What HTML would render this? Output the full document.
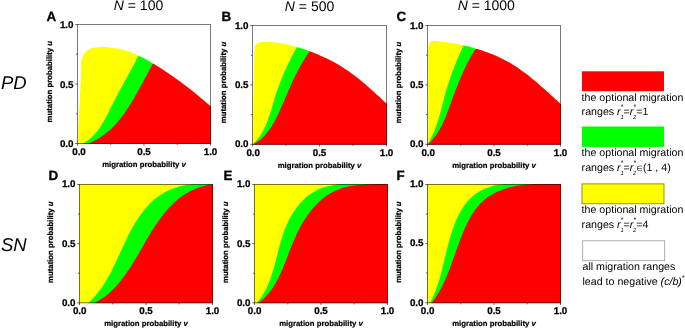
<!DOCTYPE html>
<html><head><meta charset="utf-8"><title>Figure</title>
<style>
html,body{margin:0;padding:0;background:#fff}
svg{display:block}
text{font-family:"Liberation Sans",sans-serif;fill:#000;text-rendering:geometricPrecision}
.tk{font-size:9.8px;font-weight:bold;stroke:#000;stroke-width:.25px}
.ax{font-size:7.75px;font-weight:bold;stroke:#000;stroke-width:.2px}
.pl{font-size:13.4px;font-weight:bold;stroke:#000;stroke-width:.3px}
.tt{font-size:14px}
.rw{font-size:18.5px;font-style:italic}
.lg{font-size:10.65px}
.i{font-style:italic}
.sp{font-size:7px}
.el{font-size:7.5px;font-family:"DejaVu Sans",sans-serif}
.sb{font-size:5.8px;font-style:italic}
</style></head><body>
<svg width="685" height="331" viewBox="0 0 685 331">
<rect width="685" height="331" fill="#fff"/>
<mask id="cA" maskUnits="userSpaceOnUse" x="0" y="0" width="685" height="331"><path d="M77.6 143.5C77.6 143.0 77.7 141.4 77.7 140.3C77.8 139.2 77.8 138.2 77.9 137.1C77.9 136.0 78.0 135.0 78.0 133.9C78.1 132.9 78.1 131.9 78.1 130.8C78.2 129.8 78.2 128.7 78.3 127.7C78.3 126.7 78.4 125.6 78.4 124.6C78.5 123.6 78.5 122.5 78.6 121.5C78.6 120.5 78.7 119.5 78.7 118.4C78.8 117.4 78.9 116.4 78.9 115.4C79.0 114.4 79.0 113.3 79.1 112.3C79.1 111.3 79.2 110.3 79.2 109.3C79.3 108.2 79.3 107.2 79.4 106.2C79.4 105.2 79.5 104.2 79.6 103.1C79.6 102.1 79.7 101.1 79.7 100.1C79.8 99.0 79.8 98.0 79.9 97.0C79.9 95.9 80.0 94.9 80.0 93.9C80.1 92.8 80.2 91.8 80.2 90.8C80.3 89.7 80.3 88.7 80.4 87.6C80.4 86.6 80.5 85.5 80.5 84.5C80.6 83.4 80.7 82.3 80.7 81.3C80.8 80.2 80.8 79.1 80.9 78.0C80.9 77.0 81.0 75.9 81.0 74.8C81.1 73.7 81.1 72.7 81.1 71.6C81.2 70.5 81.2 69.4 81.2 68.4C81.2 67.3 81.1 66.3 81.1 65.2C81.1 64.2 81.1 63.2 81.1 62.1C81.2 61.1 81.3 60.1 81.6 59.1C81.8 58.2 82.2 57.2 82.6 56.3C83.1 55.4 83.6 54.5 84.2 53.7C84.8 52.9 85.5 52.1 86.3 51.4C87.0 50.7 87.9 50.1 88.7 49.6C89.6 49.1 90.5 48.7 91.5 48.3C92.5 48.0 93.5 47.8 94.5 47.6C95.5 47.4 96.6 47.3 97.6 47.2C98.7 47.1 99.7 47.1 100.8 47.1C101.8 47.1 102.9 47.1 104.0 47.1C105.0 47.2 106.1 47.2 107.1 47.3C108.1 47.3 109.2 47.4 110.2 47.5C111.2 47.6 112.3 47.7 113.3 47.9C114.3 48.0 115.3 48.2 116.3 48.3C117.3 48.5 118.3 48.7 119.3 48.9C120.3 49.1 121.3 49.4 122.3 49.6C123.3 49.9 124.3 50.1 125.3 50.4C126.3 50.7 127.3 51.0 128.2 51.4C129.2 51.7 130.2 52.1 131.1 52.4C132.1 52.8 133.1 53.2 134.0 53.6C135.0 54.0 135.9 54.4 136.9 54.8C137.8 55.3 138.8 55.7 139.7 56.2C140.6 56.6 141.6 57.1 142.5 57.6C143.4 58.1 144.4 58.6 145.3 59.1C146.2 59.6 147.1 60.1 148.1 60.6C149.0 61.1 149.9 61.6 150.8 62.2C151.7 62.7 152.6 63.2 153.5 63.8C154.4 64.3 155.3 64.9 156.2 65.4C157.1 66.0 158.0 66.5 158.9 67.1C159.7 67.6 160.6 68.2 161.5 68.8C162.4 69.3 163.3 69.9 164.1 70.5C165.0 71.0 165.9 71.6 166.7 72.2C167.6 72.8 168.5 73.3 169.3 73.9C170.2 74.5 171.1 75.1 171.9 75.7C172.8 76.3 173.6 76.9 174.5 77.5C175.3 78.1 176.1 78.7 177.0 79.3C177.8 79.9 178.7 80.5 179.5 81.1C180.3 81.7 181.2 82.4 182.0 83.0C182.8 83.6 183.7 84.2 184.5 84.8C185.3 85.5 186.1 86.1 187.0 86.7C187.8 87.4 188.6 88.0 189.4 88.6C190.2 89.3 191.0 89.9 191.9 90.6C192.7 91.2 193.5 91.9 194.3 92.5C195.1 93.2 195.9 93.8 196.7 94.5C197.5 95.1 198.3 95.8 199.1 96.4C199.9 97.1 200.7 97.8 201.5 98.4C202.3 99.1 203.1 99.8 203.9 100.5C204.7 101.1 205.4 101.8 206.2 102.5C207.0 103.2 207.8 103.9 208.6 104.5C209.4 105.2 210.2 105.9 210.9 106.6C211.7 107.3 212.5 108.0 213.3 108.7C214.0 109.4 214.8 110.1 215.6 110.8C216.4 111.5 217.5 112.5 217.9 112.9L240.5 144.5L77.6 144.5Z" fill="#fff"/></mask>
<clipPath id="rA"><rect x="77.0" y="24.0" width="134.0" height="120.0"/></clipPath>
<g clip-path="url(#rA)"><g mask="url(#cA)"><rect x="75.5" y="22.5" width="173.0" height="123.0" fill="#ffff00"/><path d="M82.0 144.2C82.4 144.0 83.6 143.3 84.4 142.8C85.2 142.3 85.9 141.8 86.7 141.3C87.4 140.7 88.1 140.2 88.8 139.7C89.5 139.1 90.1 138.5 90.8 138.0C91.4 137.4 92.0 136.8 92.7 136.2C93.3 135.6 93.9 134.9 94.4 134.3C95.0 133.7 95.6 133.0 96.1 132.4C96.7 131.7 97.2 131.1 97.7 130.4C98.2 129.7 98.7 129.0 99.2 128.4C99.7 127.7 100.2 127.0 100.7 126.2C101.1 125.5 101.6 124.8 102.0 124.1C102.5 123.4 102.9 122.6 103.4 121.9C103.8 121.2 104.2 120.4 104.6 119.7C105.1 118.9 105.5 118.2 105.9 117.4C106.3 116.6 106.7 115.9 107.1 115.1C107.5 114.3 107.9 113.6 108.3 112.8C108.7 112.0 109.1 111.2 109.5 110.5C109.8 109.7 110.2 108.9 110.6 108.1C111.0 107.3 111.4 106.5 111.8 105.8C112.2 105.0 112.6 104.2 113.0 103.4C113.4 102.6 113.8 101.9 114.2 101.1C114.6 100.3 115.0 99.5 115.4 98.7C115.8 97.9 116.2 97.2 116.6 96.4C117.1 95.6 117.5 94.8 117.9 94.0C118.3 93.3 118.7 92.5 119.1 91.7C119.5 90.9 120.0 90.1 120.4 89.4C120.8 88.6 121.2 87.8 121.6 87.0C122.1 86.2 122.5 85.5 122.9 84.7C123.3 83.9 123.8 83.1 124.2 82.4C124.6 81.6 125.0 80.8 125.4 80.0C125.9 79.2 126.3 78.5 126.7 77.7C127.1 76.9 127.6 76.1 128.0 75.4C128.4 74.6 128.8 73.8 129.3 73.0C129.7 72.3 130.1 71.5 130.5 70.7C130.9 69.9 131.4 69.1 131.8 68.4C132.2 67.6 132.6 66.8 133.0 66.0C133.4 65.3 133.9 64.5 134.3 63.7C134.7 62.9 135.1 62.2 135.5 61.4C135.9 60.6 136.3 59.8 136.7 59.1C137.1 58.3 137.5 57.5 137.9 56.7C138.3 56.0 138.7 55.2 139.1 54.4C139.5 53.6 139.9 52.9 140.3 52.1C140.7 51.3 141.1 50.6 141.5 49.8C141.9 49.0 142.3 48.2 142.6 47.5C143.0 46.7 143.4 45.9 143.8 45.1C144.1 44.4 144.5 43.6 144.9 42.8C145.2 42.0 145.8 40.9 146.0 40.5L146.0 19.5L240.5 19.5L240.5 148.5L82.0 148.5Z" fill="#00ff00"/><path d="M86.5 144.2C86.9 144.0 88.2 143.6 89.0 143.3C89.9 142.9 90.7 142.6 91.5 142.2C92.3 141.8 93.1 141.5 93.8 141.1C94.6 140.7 95.4 140.3 96.2 139.9C96.9 139.5 97.7 139.0 98.4 138.6C99.1 138.1 99.9 137.7 100.6 137.2C101.3 136.8 102.0 136.3 102.7 135.8C103.4 135.3 104.1 134.8 104.7 134.3C105.4 133.8 106.1 133.2 106.7 132.7C107.4 132.2 108.0 131.6 108.7 131.1C109.3 130.5 109.9 129.9 110.6 129.4C111.2 128.8 111.8 128.2 112.4 127.6C113.0 127.0 113.6 126.4 114.2 125.8C114.8 125.2 115.3 124.5 115.9 123.9C116.5 123.3 117.1 122.6 117.6 122.0C118.2 121.3 118.7 120.7 119.3 120.0C119.8 119.4 120.3 118.7 120.9 118.0C121.4 117.3 121.9 116.6 122.4 116.0C123.0 115.3 123.5 114.6 124.0 113.9C124.5 113.2 125.0 112.5 125.5 111.7C126.0 111.0 126.5 110.3 126.9 109.6C127.4 108.9 127.9 108.1 128.4 107.4C128.9 106.7 129.3 105.9 129.8 105.2C130.3 104.4 130.7 103.7 131.2 103.0C131.6 102.2 132.1 101.5 132.5 100.7C133.0 99.9 133.4 99.2 133.9 98.4C134.3 97.7 134.8 96.9 135.2 96.1C135.6 95.4 136.1 94.6 136.5 93.8C136.9 93.1 137.4 92.3 137.8 91.5C138.2 90.8 138.6 90.0 139.1 89.2C139.5 88.4 139.9 87.7 140.3 86.9C140.8 86.1 141.2 85.3 141.6 84.5C142.0 83.8 142.4 83.0 142.9 82.2C143.3 81.4 143.7 80.7 144.1 79.9C144.5 79.1 144.9 78.3 145.4 77.6C145.8 76.8 146.2 76.0 146.6 75.2C147.0 74.5 147.5 73.7 147.9 72.9C148.3 72.1 148.7 71.4 149.1 70.6C149.6 69.8 150.0 69.1 150.4 68.3C150.8 67.6 151.2 66.8 151.7 66.1C152.1 65.3 152.5 64.5 153.0 63.8C153.4 63.0 153.8 62.3 154.3 61.6C154.7 60.8 155.1 60.1 155.6 59.4C156.0 58.6 156.5 57.9 156.9 57.2C157.4 56.4 157.8 55.7 158.3 55.0C158.7 54.3 159.2 53.6 159.7 52.9C160.1 52.2 160.8 51.1 161.1 50.8L161.1 19.5L240.5 19.5L240.5 148.5L86.5 148.5Z" fill="#ff0000"/></g></g>
<rect x="77.5" y="24.5" width="133.0" height="119.0" fill="none" stroke="#000" stroke-opacity="0.58" stroke-width="0.9"/>
<path d="M77.5 143.5v2.2M77.5 143.5h-2.2M110.8 143.5v1.6M77.5 113.8h-1.6M144.0 143.5v2.2M77.5 84.0h-2.2M177.2 143.5v1.6M77.5 54.2h-1.6M210.5 143.5v2.2M77.5 24.5h-2.2" stroke="#000" stroke-opacity="0.6" stroke-width="1" fill="none"/>
<text class="tk" x="79.0" y="155.3" text-anchor="middle">0.0</text>
<text class="tk" x="73.5" y="147.2" text-anchor="end">0.0</text>
<text class="tk" x="144.0" y="155.3" text-anchor="middle">0.5</text>
<text class="tk" x="73.5" y="87.7" text-anchor="end">0.5</text>
<text class="tk" x="210.5" y="155.3" text-anchor="middle">1.0</text>
<text class="tk" x="73.5" y="28.2" text-anchor="end">1.0</text>
<text class="ax" x="144.0" y="167.0" text-anchor="middle">migration probability <tspan class="i">v</tspan></text>
<text class="ax" transform="translate(51.6 81.7) rotate(-90)" text-anchor="middle">mutation probability <tspan class="i">u</tspan></text>
<text class="pl" x="46.4" y="20.8">A</text>
<mask id="cB" maskUnits="userSpaceOnUse" x="0" y="0" width="685" height="331"><path d="M252.8 144.3C252.8 143.8 252.8 142.1 252.8 141.0C252.8 139.9 252.8 138.8 252.8 137.7C252.8 136.6 252.8 135.5 252.8 134.5C252.8 133.4 252.8 132.3 252.8 131.2C252.8 130.1 252.9 129.0 252.9 127.9C252.9 126.8 252.9 125.7 252.9 124.6C252.9 123.5 252.9 122.5 253.0 121.4C253.0 120.3 253.0 119.2 253.0 118.1C253.0 117.0 253.0 115.9 253.1 114.8C253.1 113.8 253.1 112.7 253.1 111.6C253.1 110.5 253.2 109.4 253.2 108.3C253.2 107.2 253.2 106.1 253.3 105.1C253.3 104.0 253.3 102.9 253.3 101.8C253.3 100.7 253.4 99.6 253.4 98.5C253.4 97.4 253.4 96.4 253.5 95.3C253.5 94.2 253.5 93.1 253.5 92.0C253.5 90.9 253.6 89.8 253.6 88.7C253.6 87.6 253.6 86.6 253.7 85.5C253.7 84.4 253.7 83.3 253.7 82.2C253.7 81.1 253.8 80.0 253.8 78.9C253.8 77.8 253.8 76.7 253.8 75.6C253.8 74.5 253.9 73.4 253.9 72.3C253.9 71.3 253.9 70.2 253.9 69.1C253.9 68.0 253.9 66.9 254.0 65.8C254.0 64.7 254.0 63.6 254.0 62.5C254.1 61.4 254.1 60.3 254.2 59.2C254.2 58.1 254.3 57.0 254.3 55.9C254.4 54.8 254.5 53.7 254.6 52.6C254.7 51.5 254.8 50.4 254.9 49.3C255.0 48.2 255.0 47.0 255.3 46.1C255.7 45.1 256.1 44.2 256.9 43.6C257.6 43.0 258.8 42.8 259.8 42.5C260.8 42.3 261.9 42.2 263.0 42.1C264.1 42.0 265.2 41.9 266.3 41.9C267.4 41.9 268.5 41.9 269.6 41.9C270.7 42.0 271.8 42.1 272.9 42.2C274.0 42.3 275.1 42.4 276.2 42.6C277.3 42.7 278.4 42.9 279.5 43.1C280.6 43.2 281.7 43.4 282.8 43.6C283.8 43.9 284.9 44.1 286.0 44.3C287.1 44.5 288.2 44.8 289.2 45.0C290.3 45.3 291.4 45.6 292.4 45.9C293.5 46.1 294.5 46.4 295.6 46.7C296.7 47.0 297.7 47.3 298.7 47.6C299.8 48.0 300.8 48.3 301.9 48.6C302.9 48.9 303.9 49.3 305.0 49.6C306.0 50.0 307.0 50.3 308.0 50.7C309.1 51.1 310.1 51.4 311.1 51.8C312.1 52.2 313.1 52.6 314.1 53.0C315.1 53.4 316.1 53.8 317.1 54.2C318.1 54.6 319.1 55.0 320.1 55.4C321.0 55.8 322.0 56.3 323.0 56.7C324.0 57.1 325.0 57.6 325.9 58.1C326.9 58.5 327.9 59.0 328.8 59.5C329.8 59.9 330.7 60.4 331.7 60.9C332.6 61.4 333.6 61.9 334.5 62.4C335.5 63.0 336.4 63.5 337.3 64.0C338.3 64.6 339.2 65.1 340.1 65.7C341.1 66.3 342.0 66.8 342.9 67.4C343.8 68.0 344.7 68.6 345.6 69.2C346.5 69.8 347.4 70.5 348.3 71.1C349.2 71.7 350.1 72.4 351.0 73.0C351.9 73.7 352.8 74.3 353.7 75.0C354.6 75.7 355.5 76.3 356.3 77.0C357.2 77.7 358.1 78.4 359.0 79.1C359.8 79.8 360.7 80.5 361.5 81.2C362.4 81.9 363.3 82.6 364.1 83.3C365.0 84.0 365.8 84.8 366.6 85.5C367.5 86.2 368.3 86.9 369.2 87.7C370.0 88.4 370.8 89.2 371.6 89.9C372.5 90.6 373.3 91.4 374.1 92.1C374.9 92.9 375.7 93.6 376.5 94.4C377.4 95.1 378.2 95.8 379.0 96.6C379.8 97.3 380.6 98.1 381.3 98.8C382.1 99.6 382.9 100.3 383.7 101.1C384.5 101.8 385.3 102.6 386.0 103.3C386.8 104.0 387.6 104.8 388.4 105.5C389.1 106.2 389.9 107.0 390.6 107.7C391.4 108.4 392.5 109.5 392.9 109.9L416.5 145.3L252.8 145.3Z" fill="#fff"/></mask>
<clipPath id="rB"><rect x="252.0" y="25.0" width="135.0" height="119.8"/></clipPath>
<g clip-path="url(#rB)"><g mask="url(#cB)"><rect x="250.5" y="23.5" width="174.0" height="122.8" fill="#ffff00"/><path d="M252.5 144.4C252.8 144.1 253.7 143.4 254.3 142.8C254.9 142.3 255.5 141.7 256.0 141.1C256.6 140.5 257.1 139.9 257.6 139.2C258.1 138.6 258.6 137.9 259.1 137.3C259.6 136.6 260.1 135.9 260.5 135.2C261.0 134.5 261.4 133.8 261.8 133.1C262.2 132.4 262.6 131.6 263.0 130.9C263.4 130.2 263.8 129.4 264.2 128.6C264.6 127.9 264.9 127.1 265.3 126.3C265.6 125.5 266.0 124.7 266.3 123.9C266.6 123.1 266.9 122.3 267.3 121.5C267.6 120.7 267.9 119.9 268.2 119.1C268.5 118.2 268.8 117.4 269.0 116.6C269.3 115.7 269.6 114.9 269.9 114.0C270.2 113.2 270.4 112.3 270.7 111.5C271.0 110.6 271.2 109.8 271.5 108.9C271.7 108.1 272.0 107.2 272.3 106.4C272.5 105.5 272.8 104.7 273.0 103.8C273.3 102.9 273.5 102.1 273.8 101.2C274.0 100.4 274.3 99.5 274.5 98.7C274.8 97.8 275.1 97.0 275.3 96.2C275.6 95.3 275.9 94.5 276.1 93.6C276.4 92.8 276.7 92.0 277.0 91.2C277.2 90.3 277.5 89.5 277.8 88.7C278.1 87.9 278.4 87.1 278.7 86.3C279.0 85.5 279.3 84.7 279.6 83.9C279.9 83.1 280.2 82.3 280.5 81.5C280.8 80.7 281.1 79.9 281.4 79.1C281.7 78.3 282.1 77.5 282.4 76.7C282.7 76.0 283.0 75.2 283.4 74.4C283.7 73.6 284.0 72.8 284.4 72.1C284.7 71.3 285.1 70.5 285.4 69.8C285.8 69.0 286.1 68.2 286.5 67.5C286.8 66.7 287.2 65.9 287.6 65.2C287.9 64.4 288.3 63.6 288.7 62.9C289.0 62.1 289.4 61.4 289.8 60.6C290.1 59.8 290.5 59.1 290.9 58.3C291.3 57.6 291.7 56.8 292.1 56.1C292.5 55.3 292.9 54.5 293.3 53.8C293.7 53.0 294.1 52.3 294.5 51.5C294.9 50.7 295.3 50.0 295.7 49.2C296.1 48.5 296.5 47.7 296.9 46.9C297.4 46.2 297.8 45.4 298.2 44.6C298.6 43.9 299.1 43.1 299.5 42.3C299.9 41.6 300.4 40.8 300.8 40.0C301.2 39.3 301.7 38.5 302.1 37.7C302.6 36.9 303.3 35.8 303.5 35.4L303.5 20.5L416.5 20.5L416.5 149.3L252.5 149.3Z" fill="#00ff00"/><path d="M252.5 144.4C252.9 144.2 254.1 143.6 254.8 143.2C255.6 142.8 256.3 142.4 257.0 142.0C257.7 141.5 258.4 141.0 259.1 140.5C259.8 140.0 260.4 139.5 261.1 139.0C261.7 138.5 262.3 137.9 263.0 137.3C263.6 136.7 264.2 136.1 264.7 135.5C265.3 134.9 265.9 134.3 266.4 133.6C267.0 133.0 267.5 132.3 268.0 131.6C268.5 131.0 269.1 130.3 269.6 129.5C270.1 128.8 270.5 128.1 271.0 127.4C271.5 126.7 272.0 125.9 272.4 125.1C272.9 124.4 273.3 123.6 273.7 122.9C274.2 122.1 274.6 121.3 275.0 120.5C275.4 119.7 275.8 118.9 276.2 118.1C276.7 117.3 277.0 116.5 277.4 115.7C277.8 114.9 278.2 114.0 278.6 113.2C279.0 112.4 279.4 111.6 279.7 110.8C280.1 109.9 280.5 109.1 280.8 108.3C281.2 107.5 281.6 106.6 281.9 105.8C282.3 105.0 282.6 104.2 283.0 103.3C283.3 102.5 283.7 101.7 284.1 100.9C284.4 100.1 284.8 99.2 285.1 98.4C285.5 97.6 285.8 96.8 286.2 96.0C286.5 95.2 286.9 94.3 287.2 93.5C287.6 92.7 287.9 91.9 288.3 91.1C288.6 90.3 289.0 89.5 289.3 88.7C289.7 87.9 290.1 87.1 290.4 86.3C290.8 85.5 291.1 84.7 291.5 83.9C291.9 83.1 292.2 82.3 292.6 81.5C293.0 80.7 293.3 79.9 293.7 79.1C294.1 78.4 294.4 77.6 294.8 76.8C295.2 76.0 295.6 75.2 296.0 74.5C296.4 73.7 296.8 72.9 297.2 72.1C297.5 71.4 297.9 70.6 298.4 69.8C298.8 69.1 299.2 68.3 299.6 67.5C300.0 66.8 300.4 66.0 300.9 65.3C301.3 64.5 301.7 63.7 302.2 63.0C302.6 62.2 303.1 61.5 303.5 60.8C304.0 60.0 304.4 59.3 304.9 58.5C305.4 57.8 305.8 57.1 306.3 56.3C306.8 55.6 307.3 54.9 307.8 54.2C308.3 53.4 308.8 52.7 309.3 52.0C309.9 51.3 310.4 50.6 310.9 49.9C311.5 49.1 312.0 48.4 312.6 47.7C313.1 47.0 313.7 46.3 314.3 45.6C314.9 45.0 315.4 44.3 316.0 43.6C316.6 42.9 317.6 41.9 317.9 41.5L317.9 20.5L416.5 20.5L416.5 149.3L252.5 149.3Z" fill="#ff0000"/></g></g>
<rect x="252.5" y="25.5" width="134.0" height="118.8" fill="none" stroke="#000" stroke-opacity="0.58" stroke-width="0.9"/>
<path d="M252.5 144.3v2.2M252.5 144.3h-2.2M286.0 144.3v1.6M252.5 114.6h-1.6M319.5 144.3v2.2M252.5 84.9h-2.2M353.0 144.3v1.6M252.5 55.2h-1.6M386.5 144.3v2.2M252.5 25.5h-2.2" stroke="#000" stroke-opacity="0.6" stroke-width="1" fill="none"/>
<text class="tk" x="253.2" y="156.1" text-anchor="middle">0.0</text>
<text class="tk" x="248.5" y="147.3" text-anchor="end">0.0</text>
<text class="tk" x="319.5" y="156.1" text-anchor="middle">0.5</text>
<text class="tk" x="248.5" y="87.9" text-anchor="end">0.5</text>
<text class="tk" x="386.5" y="156.1" text-anchor="middle">1.0</text>
<text class="tk" x="248.5" y="28.5" text-anchor="end">1.0</text>
<text class="ax" x="319.5" y="167.8" text-anchor="middle">migration probability <tspan class="i">v</tspan></text>
<text class="ax" transform="translate(226.2 82.5) rotate(-90)" text-anchor="middle">mutation probability <tspan class="i">u</tspan></text>
<text class="pl" x="221.4" y="20.8">B</text>
<mask id="cC" maskUnits="userSpaceOnUse" x="0" y="0" width="685" height="331"><path d="M427.7 144.3C427.7 143.7 427.7 142.1 427.6 141.0C427.6 139.8 427.6 138.7 427.6 137.6C427.6 136.5 427.6 135.4 427.6 134.3C427.6 133.2 427.6 132.1 427.6 131.0C427.6 129.9 427.6 128.8 427.6 127.7C427.6 126.6 427.6 125.5 427.6 124.4C427.6 123.3 427.7 122.1 427.7 121.0C427.7 119.9 427.7 118.9 427.7 117.8C427.7 116.7 427.8 115.6 427.8 114.5C427.8 113.4 427.8 112.3 427.8 111.2C427.9 110.1 427.9 109.0 427.9 107.9C427.9 106.8 427.9 105.7 427.9 104.6C428.0 103.5 428.0 102.4 428.0 101.3C428.0 100.2 428.0 99.1 428.0 98.0C428.1 96.9 428.1 95.8 428.1 94.7C428.1 93.6 428.1 92.5 428.1 91.4C428.1 90.3 428.1 89.2 428.1 88.1C428.1 87.0 428.1 85.9 428.1 84.7C428.1 83.6 428.1 82.5 428.1 81.4C428.1 80.3 428.1 79.2 428.1 78.1C428.0 77.0 428.0 75.9 428.0 74.7C428.0 73.6 427.9 72.5 427.9 71.4C427.9 70.3 427.8 69.1 427.8 68.0C427.8 66.9 427.7 65.8 427.7 64.7C427.7 63.5 427.7 62.4 427.6 61.3C427.6 60.2 427.6 59.1 427.7 58.0C427.7 56.8 427.7 55.7 427.8 54.6C427.8 53.5 427.9 52.4 428.0 51.4C428.1 50.3 428.2 49.2 428.3 48.1C428.5 47.0 428.6 45.9 428.9 44.9C429.2 44.0 429.5 42.9 430.0 42.3C430.6 41.6 431.5 41.3 432.5 41.1C433.4 40.9 434.6 41.0 435.8 41.1C436.9 41.1 438.2 41.3 439.3 41.4C440.5 41.5 441.7 41.7 442.8 41.8C444.0 41.9 445.1 42.1 446.3 42.2C447.4 42.4 448.5 42.6 449.6 42.7C450.7 42.9 451.8 43.1 452.9 43.3C454.0 43.4 455.1 43.6 456.2 43.8C457.2 44.0 458.3 44.2 459.4 44.5C460.4 44.7 461.5 44.9 462.6 45.1C463.6 45.4 464.7 45.6 465.7 45.9C466.8 46.1 467.8 46.4 468.9 46.6C469.9 46.9 471.0 47.2 472.0 47.5C473.0 47.8 474.1 48.1 475.1 48.4C476.2 48.7 477.2 49.0 478.3 49.3C479.3 49.6 480.4 50.0 481.4 50.3C482.5 50.7 483.5 51.0 484.6 51.4C485.6 51.8 486.7 52.1 487.7 52.5C488.8 52.9 489.8 53.3 490.9 53.7C491.9 54.1 492.9 54.5 494.0 55.0C495.0 55.4 496.0 55.8 497.0 56.3C498.1 56.8 499.1 57.2 500.1 57.7C501.1 58.2 502.1 58.7 503.1 59.2C504.1 59.7 505.1 60.2 506.1 60.7C507.0 61.2 508.0 61.8 509.0 62.3C509.9 62.9 510.9 63.4 511.8 64.0C512.8 64.6 513.7 65.2 514.6 65.8C515.6 66.3 516.5 66.9 517.4 67.6C518.3 68.2 519.2 68.8 520.1 69.4C521.0 70.1 521.9 70.7 522.8 71.4C523.7 72.0 524.6 72.7 525.4 73.3C526.3 74.0 527.2 74.7 528.1 75.3C528.9 76.0 529.8 76.7 530.6 77.4C531.5 78.1 532.4 78.8 533.2 79.5C534.1 80.2 534.9 80.9 535.7 81.6C536.6 82.3 537.4 83.0 538.2 83.8C539.1 84.5 539.9 85.2 540.7 85.9C541.6 86.7 542.4 87.4 543.2 88.1C544.1 88.9 544.9 89.6 545.7 90.3C546.5 91.1 547.3 91.8 548.2 92.6C549.0 93.3 549.8 94.1 550.6 94.8C551.4 95.5 552.2 96.3 553.1 97.0C553.9 97.8 554.7 98.5 555.5 99.3C556.3 100.0 557.2 100.7 558.0 101.5C558.8 102.2 559.6 103.0 560.4 103.7C561.3 104.4 562.1 105.2 562.9 105.9C563.7 106.6 564.6 107.4 565.4 108.1C566.2 108.8 567.5 109.9 567.9 110.3L590.5 145.3L427.7 145.3Z" fill="#fff"/></mask>
<clipPath id="rC"><rect x="427.0" y="25.0" width="134.0" height="119.8"/></clipPath>
<g clip-path="url(#rC)"><g mask="url(#cC)"><rect x="425.5" y="23.5" width="173.0" height="122.8" fill="#ffff00"/><path d="M427.5 144.4C427.7 144.0 428.4 142.9 428.8 142.2C429.3 141.4 429.7 140.7 430.1 139.9C430.5 139.2 430.9 138.4 431.3 137.6C431.7 136.9 432.0 136.1 432.4 135.3C432.7 134.6 433.1 133.8 433.4 133.0C433.7 132.3 434.1 131.5 434.4 130.7C434.7 129.9 435.0 129.2 435.3 128.4C435.6 127.6 435.9 126.8 436.2 126.0C436.4 125.2 436.7 124.4 437.0 123.7C437.3 122.9 437.5 122.1 437.8 121.3C438.0 120.5 438.3 119.7 438.5 118.9C438.7 118.1 439.0 117.3 439.2 116.5C439.4 115.7 439.7 114.9 439.9 114.1C440.1 113.3 440.3 112.5 440.6 111.7C440.8 110.9 441.0 110.1 441.2 109.2C441.4 108.4 441.6 107.6 441.9 106.8C442.1 106.0 442.3 105.2 442.5 104.4C442.7 103.6 442.9 102.7 443.1 101.9C443.3 101.1 443.6 100.3 443.8 99.5C444.0 98.7 444.2 97.9 444.4 97.0C444.6 96.2 444.9 95.4 445.1 94.6C445.3 93.8 445.5 93.0 445.8 92.1C446.0 91.3 446.3 90.5 446.5 89.7C446.7 88.9 447.0 88.1 447.2 87.2C447.5 86.4 447.7 85.6 448.0 84.8C448.2 84.0 448.5 83.2 448.8 82.4C449.0 81.5 449.3 80.7 449.6 79.9C449.8 79.1 450.1 78.3 450.4 77.5C450.7 76.7 451.0 75.9 451.2 75.1C451.5 74.2 451.8 73.4 452.1 72.6C452.4 71.8 452.7 71.0 453.0 70.2C453.3 69.4 453.6 68.6 453.9 67.8C454.2 67.0 454.5 66.2 454.8 65.4C455.2 64.6 455.5 63.8 455.8 63.0C456.1 62.2 456.4 61.4 456.8 60.6C457.1 59.8 457.4 59.1 457.8 58.3C458.1 57.5 458.4 56.7 458.8 55.9C459.1 55.1 459.5 54.4 459.8 53.6C460.2 52.8 460.5 52.0 460.9 51.3C461.3 50.5 461.6 49.7 462.0 48.9C462.3 48.2 462.7 47.4 463.1 46.7C463.5 45.9 463.8 45.1 464.2 44.4C464.6 43.6 465.0 42.9 465.4 42.1C465.8 41.4 466.2 40.6 466.5 39.9C466.9 39.1 467.3 38.4 467.7 37.7C468.1 36.9 468.6 36.2 469.0 35.5C469.4 34.7 470.0 33.7 470.2 33.3L470.2 20.5L590.5 20.5L590.5 149.3L427.5 149.3Z" fill="#00ff00"/><path d="M427.5 144.4C427.8 144.1 428.8 143.3 429.5 142.7C430.1 142.1 430.7 141.5 431.3 140.9C431.9 140.3 432.5 139.6 433.0 139.0C433.6 138.3 434.1 137.7 434.6 137.0C435.2 136.3 435.7 135.7 436.2 135.0C436.7 134.3 437.1 133.6 437.6 132.9C438.1 132.1 438.5 131.4 438.9 130.7C439.4 129.9 439.8 129.2 440.2 128.5C440.6 127.7 441.0 126.9 441.4 126.2C441.8 125.4 442.2 124.6 442.6 123.9C442.9 123.1 443.3 122.3 443.7 121.5C444.0 120.7 444.4 119.9 444.7 119.1C445.1 118.3 445.4 117.5 445.7 116.7C446.0 115.8 446.4 115.0 446.7 114.2C447.0 113.4 447.3 112.6 447.6 111.7C447.9 110.9 448.3 110.1 448.6 109.3C448.9 108.4 449.2 107.6 449.5 106.8C449.8 105.9 450.1 105.1 450.4 104.3C450.7 103.4 451.0 102.6 451.3 101.8C451.6 100.9 451.9 100.1 452.2 99.3C452.5 98.4 452.8 97.6 453.1 96.8C453.4 96.0 453.7 95.1 454.1 94.3C454.4 93.5 454.7 92.6 455.0 91.8C455.3 91.0 455.6 90.2 455.9 89.3C456.3 88.5 456.6 87.7 456.9 86.9C457.2 86.1 457.6 85.2 457.9 84.4C458.2 83.6 458.5 82.8 458.9 82.0C459.2 81.2 459.5 80.4 459.9 79.5C460.2 78.7 460.6 77.9 460.9 77.1C461.3 76.3 461.6 75.5 462.0 74.7C462.3 73.9 462.7 73.1 463.0 72.3C463.4 71.5 463.8 70.7 464.1 69.9C464.5 69.1 464.9 68.3 465.3 67.5C465.6 66.8 466.0 66.0 466.4 65.2C466.8 64.4 467.2 63.6 467.6 62.8C468.0 62.1 468.4 61.3 468.8 60.5C469.2 59.8 469.6 59.0 470.1 58.2C470.5 57.5 470.9 56.7 471.3 55.9C471.8 55.2 472.2 54.4 472.7 53.7C473.1 52.9 473.6 52.2 474.0 51.4C474.5 50.7 475.0 49.9 475.4 49.2C475.9 48.5 476.4 47.7 476.9 47.0C477.4 46.3 477.9 45.6 478.4 44.8C478.9 44.1 479.4 43.4 479.9 42.7C480.4 42.0 480.9 41.3 481.5 40.6C482.0 39.9 482.6 39.2 483.1 38.5C483.7 37.8 484.5 36.7 484.8 36.4L484.8 20.5L590.5 20.5L590.5 149.3L427.5 149.3Z" fill="#ff0000"/></g></g>
<rect x="427.5" y="25.5" width="133.0" height="118.8" fill="none" stroke="#000" stroke-opacity="0.58" stroke-width="0.9"/>
<path d="M427.5 144.3v2.2M427.5 144.3h-2.2M460.8 144.3v1.6M427.5 114.6h-1.6M494.0 144.3v2.2M427.5 84.9h-2.2M527.2 144.3v1.6M427.5 55.2h-1.6M560.5 144.3v2.2M427.5 25.5h-2.2" stroke="#000" stroke-opacity="0.6" stroke-width="1" fill="none"/>
<text class="tk" x="428.2" y="156.1" text-anchor="middle">0.0</text>
<text class="tk" x="423.5" y="147.3" text-anchor="end">0.0</text>
<text class="tk" x="494.0" y="156.1" text-anchor="middle">0.5</text>
<text class="tk" x="423.5" y="87.9" text-anchor="end">0.5</text>
<text class="tk" x="560.5" y="156.1" text-anchor="middle">1.0</text>
<text class="tk" x="423.5" y="28.5" text-anchor="end">1.0</text>
<text class="ax" x="494.0" y="167.8" text-anchor="middle">migration probability <tspan class="i">v</tspan></text>
<text class="ax" transform="translate(401.2 82.5) rotate(-90)" text-anchor="middle">mutation probability <tspan class="i">u</tspan></text>
<text class="pl" x="396.4" y="20.9">C</text>
<mask id="cD" maskUnits="userSpaceOnUse" x="0" y="0" width="685" height="331"><path d="M78.5 183.5H213.5V303.8H78.5Z" fill="#fff"/></mask>
<clipPath id="rD"><rect x="79.0" y="184.0" width="134.0" height="119.3"/></clipPath>
<g clip-path="url(#rD)"><g mask="url(#cD)"><rect x="77.5" y="182.5" width="173.0" height="122.3" fill="#ffff00"/><path d="M87.8 303.4C88.3 302.9 89.8 301.6 90.7 300.7C91.7 299.7 92.6 298.8 93.5 297.8C94.4 296.8 95.2 295.9 96.1 294.9C96.9 293.9 97.7 292.8 98.5 291.8C99.3 290.8 100.1 289.7 100.9 288.7C101.6 287.6 102.3 286.5 103.1 285.4C103.8 284.4 104.5 283.3 105.2 282.2C105.9 281.0 106.5 279.9 107.2 278.8C107.8 277.7 108.5 276.5 109.1 275.4C109.7 274.2 110.4 273.1 111.0 271.9C111.6 270.7 112.2 269.6 112.8 268.4C113.3 267.2 113.9 266.0 114.5 264.8C115.1 263.6 115.6 262.4 116.2 261.2C116.8 260.0 117.3 258.8 117.9 257.6C118.4 256.4 119.0 255.2 119.6 254.0C120.1 252.8 120.7 251.6 121.2 250.4C121.8 249.2 122.3 248.0 122.9 246.8C123.4 245.6 124.0 244.4 124.6 243.2C125.1 242.0 125.7 240.8 126.3 239.6C126.8 238.4 127.4 237.2 128.0 236.0C128.6 234.8 129.2 233.6 129.8 232.5C130.4 231.3 131.1 230.1 131.7 229.0C132.3 227.8 133.0 226.6 133.6 225.5C134.3 224.4 135.0 223.2 135.7 222.1C136.4 221.0 137.1 219.9 137.8 218.8C138.5 217.7 139.2 216.6 140.0 215.6C140.7 214.5 141.5 213.5 142.3 212.4C143.0 211.4 143.8 210.4 144.7 209.4C145.5 208.4 146.3 207.4 147.2 206.5C148.0 205.6 148.9 204.6 149.8 203.7C150.7 202.8 151.6 201.9 152.5 201.1C153.5 200.2 154.4 199.4 155.4 198.6C156.4 197.8 157.4 197.1 158.5 196.3C159.5 195.6 160.5 194.9 161.6 194.2C162.7 193.5 163.8 192.9 164.9 192.3C166.1 191.6 167.2 191.1 168.4 190.5C169.6 190.0 170.8 189.5 172.0 189.0C173.3 188.5 174.5 188.1 175.8 187.7C177.0 187.3 178.3 186.9 179.6 186.5C180.9 186.2 182.2 185.9 183.6 185.6C184.9 185.3 186.2 185.1 187.5 184.8C188.9 184.6 190.2 184.4 191.6 184.3C192.9 184.1 194.3 184.0 195.6 183.9C197.0 183.8 198.3 183.7 199.6 183.7C201.0 183.6 202.3 183.6 203.7 183.6C205.0 183.7 206.3 183.7 207.6 183.8C208.9 183.9 210.8 184.0 211.5 184.1L211.5 179.5L242.5 179.5L242.5 307.8L87.8 307.8Z" fill="#00ff00"/><path d="M94.0 303.4C94.6 303.1 96.2 302.2 97.3 301.6C98.4 301.0 99.5 300.3 100.5 299.6C101.5 299.0 102.6 298.3 103.6 297.5C104.6 296.8 105.5 296.1 106.5 295.3C107.4 294.5 108.4 293.8 109.3 292.9C110.2 292.1 111.1 291.3 112.0 290.5C112.8 289.6 113.7 288.8 114.5 287.9C115.4 287.0 116.2 286.1 117.0 285.2C117.8 284.3 118.6 283.4 119.4 282.4C120.2 281.5 121.0 280.5 121.7 279.6C122.5 278.6 123.2 277.6 123.9 276.6C124.7 275.6 125.4 274.6 126.1 273.6C126.8 272.6 127.5 271.6 128.2 270.5C128.9 269.5 129.6 268.5 130.3 267.4C130.9 266.4 131.6 265.3 132.3 264.2C132.9 263.2 133.6 262.1 134.2 261.0C134.9 259.9 135.5 258.9 136.2 257.8C136.8 256.7 137.5 255.6 138.1 254.5C138.7 253.4 139.4 252.3 140.0 251.2C140.6 250.1 141.3 249.0 141.9 247.9C142.5 246.8 143.2 245.7 143.8 244.6C144.4 243.5 145.1 242.4 145.7 241.3C146.3 240.2 147.0 239.1 147.6 238.1C148.3 237.0 148.9 235.9 149.6 234.8C150.2 233.7 150.9 232.6 151.5 231.6C152.2 230.5 152.9 229.4 153.6 228.4C154.2 227.3 154.9 226.3 155.6 225.3C156.3 224.2 157.0 223.2 157.7 222.2C158.4 221.2 159.1 220.1 159.9 219.1C160.6 218.1 161.3 217.2 162.1 216.2C162.8 215.2 163.6 214.3 164.3 213.3C165.1 212.4 165.9 211.4 166.7 210.5C167.5 209.6 168.3 208.7 169.1 207.8C169.9 206.9 170.7 206.1 171.6 205.2C172.4 204.4 173.3 203.5 174.1 202.7C175.0 201.9 175.9 201.1 176.8 200.4C177.7 199.6 178.6 198.8 179.6 198.1C180.5 197.4 181.5 196.7 182.4 196.0C183.4 195.3 184.4 194.6 185.4 194.0C186.4 193.4 187.4 192.8 188.5 192.2C189.5 191.6 190.6 191.0 191.7 190.5C192.8 190.0 193.9 189.4 195.0 189.0C196.1 188.5 197.3 188.0 198.5 187.6C199.6 187.2 200.8 186.8 202.1 186.4C203.3 186.1 204.5 185.8 205.8 185.5C207.0 185.2 208.3 184.9 209.7 184.7C211.0 184.4 213.0 184.2 213.7 184.1L213.7 179.5L242.5 179.5L242.5 307.8L94.0 307.8Z" fill="#ff0000"/></g></g>
<rect x="79.5" y="184.5" width="133.0" height="118.3" fill="none" stroke="#000" stroke-opacity="0.58" stroke-width="0.9"/>
<path d="M79.5 302.8v2.2M79.5 302.8h-2.2M112.8 302.8v1.6M79.5 273.2h-1.6M146.0 302.8v2.2M79.5 243.7h-2.2M179.2 302.8v1.6M79.5 214.1h-1.6M212.5 302.8v2.2M79.5 184.5h-2.2" stroke="#000" stroke-opacity="0.6" stroke-width="1" fill="none"/>
<text class="tk" x="79.7" y="314.3" text-anchor="middle">0.0</text>
<text class="tk" x="75.5" y="305.6" text-anchor="end">0.0</text>
<text class="tk" x="146.0" y="314.3" text-anchor="middle">0.5</text>
<text class="tk" x="75.5" y="246.5" text-anchor="end">0.5</text>
<text class="tk" x="212.5" y="314.3" text-anchor="middle">1.0</text>
<text class="tk" x="75.5" y="187.3" text-anchor="end">1.0</text>
<text class="ax" x="146.0" y="326.0" text-anchor="middle">migration probability <tspan class="i">v</tspan></text>
<text class="ax" transform="translate(53.0 242.2) rotate(-90)" text-anchor="middle">mutation probability <tspan class="i">u</tspan></text>
<text class="pl" x="48.4" y="179.5">D</text>
<mask id="cE" maskUnits="userSpaceOnUse" x="0" y="0" width="685" height="331"><path d="M253.5 183.5H388.5V303.8H253.5Z" fill="#fff"/></mask>
<clipPath id="rE"><rect x="254.0" y="184.0" width="134.0" height="119.3"/></clipPath>
<g clip-path="url(#rE)"><g mask="url(#cE)"><rect x="252.5" y="182.5" width="173.0" height="122.3" fill="#ffff00"/><path d="M256.4 303.2C256.9 302.6 258.3 301.0 259.2 299.9C260.1 298.7 261.0 297.5 261.8 296.4C262.6 295.2 263.3 293.9 264.0 292.7C264.8 291.5 265.4 290.2 266.1 289.0C266.7 287.7 267.3 286.4 267.9 285.1C268.5 283.8 269.0 282.5 269.5 281.1C270.1 279.8 270.6 278.4 271.0 277.1C271.5 275.7 271.9 274.3 272.4 272.9C272.8 271.5 273.2 270.1 273.6 268.7C274.0 267.3 274.4 265.9 274.8 264.5C275.2 263.1 275.5 261.6 275.9 260.2C276.3 258.8 276.6 257.4 277.0 255.9C277.4 254.5 277.7 253.0 278.1 251.6C278.5 250.2 278.8 248.7 279.2 247.3C279.6 245.8 280.0 244.4 280.4 243.0C280.8 241.5 281.2 240.1 281.7 238.7C282.1 237.3 282.6 235.9 283.0 234.5C283.5 233.0 284.0 231.6 284.5 230.3C285.1 228.9 285.6 227.5 286.2 226.1C286.8 224.8 287.4 223.4 288.0 222.1C288.6 220.8 289.3 219.4 290.0 218.1C290.7 216.9 291.4 215.6 292.1 214.3C292.9 213.1 293.6 211.9 294.4 210.7C295.2 209.5 296.0 208.3 296.9 207.2C297.8 206.0 298.6 204.9 299.6 203.9C300.5 202.8 301.4 201.8 302.4 200.8C303.4 199.8 304.4 198.8 305.4 197.9C306.4 197.0 307.5 196.1 308.6 195.3C309.7 194.5 310.9 193.7 312.0 192.9C313.2 192.2 314.4 191.5 315.6 190.9C316.8 190.2 318.1 189.7 319.4 189.1C320.7 188.6 322.0 188.1 323.4 187.6C324.7 187.2 326.1 186.8 327.5 186.4C328.9 186.1 330.3 185.7 331.7 185.5C333.2 185.2 334.6 184.9 336.1 184.7C337.5 184.5 339.0 184.3 340.5 184.1C342.0 184.0 343.5 183.8 345.0 183.7C346.6 183.6 348.1 183.5 349.6 183.5C351.1 183.4 352.7 183.4 354.2 183.4C355.7 183.3 357.2 183.3 358.8 183.3C360.3 183.3 361.8 183.4 363.3 183.4C364.8 183.4 366.4 183.5 367.8 183.5C369.3 183.5 370.8 183.6 372.3 183.6C373.8 183.7 375.2 183.7 376.7 183.8C378.1 183.8 379.6 183.9 381.0 183.9C382.4 184.0 383.7 184.0 385.1 184.0C386.5 184.1 388.4 184.1 389.1 184.1L389.1 179.5L417.5 179.5L417.5 307.8L256.4 307.8Z" fill="#00ff00"/><path d="M258.0 303.2C258.6 302.8 260.3 301.5 261.4 300.6C262.5 299.7 263.6 298.7 264.6 297.7C265.6 296.8 266.5 295.8 267.4 294.8C268.3 293.8 269.2 292.7 270.0 291.7C270.8 290.6 271.6 289.5 272.3 288.4C273.1 287.3 273.8 286.2 274.5 285.0C275.2 283.9 275.9 282.7 276.5 281.5C277.2 280.3 277.8 279.2 278.4 277.9C279.0 276.7 279.6 275.5 280.1 274.3C280.7 273.0 281.3 271.8 281.8 270.5C282.4 269.3 282.9 268.0 283.4 266.7C284.0 265.4 284.5 264.1 285.0 262.8C285.5 261.5 286.0 260.2 286.5 258.9C287.0 257.6 287.5 256.3 288.0 255.0C288.5 253.7 289.0 252.4 289.6 251.1C290.1 249.7 290.6 248.4 291.1 247.1C291.6 245.8 292.2 244.5 292.7 243.2C293.3 241.9 293.8 240.6 294.4 239.3C294.9 238.0 295.5 236.7 296.1 235.4C296.7 234.1 297.3 232.8 297.9 231.6C298.6 230.3 299.2 229.0 299.9 227.8C300.5 226.5 301.2 225.3 301.9 224.1C302.6 222.9 303.3 221.7 304.1 220.5C304.8 219.3 305.6 218.1 306.4 217.0C307.1 215.8 307.9 214.7 308.8 213.6C309.6 212.5 310.4 211.4 311.3 210.3C312.1 209.2 313.0 208.2 313.9 207.2C314.8 206.1 315.8 205.2 316.7 204.2C317.7 203.2 318.6 202.3 319.6 201.4C320.6 200.5 321.6 199.6 322.7 198.8C323.7 197.9 324.8 197.1 325.9 196.3C327.0 195.6 328.1 194.8 329.2 194.1C330.3 193.4 331.5 192.8 332.7 192.1C333.9 191.5 335.1 190.9 336.3 190.4C337.6 189.8 338.8 189.3 340.1 188.9C341.4 188.4 342.7 188.0 344.0 187.6C345.4 187.2 346.7 186.9 348.1 186.6C349.5 186.3 350.9 186.0 352.3 185.8C353.7 185.6 355.1 185.4 356.5 185.2C357.9 185.0 359.4 184.9 360.8 184.7C362.3 184.6 363.7 184.5 365.1 184.4C366.6 184.3 368.0 184.3 369.5 184.2C370.9 184.2 372.3 184.1 373.7 184.1C375.2 184.1 376.6 184.1 378.0 184.1C379.4 184.1 380.8 184.1 382.1 184.1C383.5 184.1 384.9 184.1 386.2 184.1C387.5 184.1 389.4 184.1 390.1 184.1L390.1 179.5L417.5 179.5L417.5 307.8L258.0 307.8Z" fill="#ff0000"/></g></g>
<rect x="254.5" y="184.5" width="133.0" height="118.3" fill="none" stroke="#000" stroke-opacity="0.58" stroke-width="0.9"/>
<path d="M254.5 302.8v2.2M254.5 302.8h-2.2M287.8 302.8v1.6M254.5 273.2h-1.6M321.0 302.8v2.2M254.5 243.7h-2.2M354.2 302.8v1.6M254.5 214.1h-1.6M387.5 302.8v2.2M254.5 184.5h-2.2" stroke="#000" stroke-opacity="0.6" stroke-width="1" fill="none"/>
<text class="tk" x="254.6" y="314.3" text-anchor="middle">0.0</text>
<text class="tk" x="250.5" y="305.6" text-anchor="end">0.0</text>
<text class="tk" x="321.0" y="314.3" text-anchor="middle">0.5</text>
<text class="tk" x="250.5" y="246.5" text-anchor="end">0.5</text>
<text class="tk" x="387.5" y="314.3" text-anchor="middle">1.0</text>
<text class="tk" x="250.5" y="187.3" text-anchor="end">1.0</text>
<text class="ax" x="321.0" y="326.0" text-anchor="middle">migration probability <tspan class="i">v</tspan></text>
<text class="ax" transform="translate(228.0 242.2) rotate(-90)" text-anchor="middle">mutation probability <tspan class="i">u</tspan></text>
<text class="pl" x="223.4" y="179.5">E</text>
<mask id="cF" maskUnits="userSpaceOnUse" x="0" y="0" width="685" height="331"><path d="M426.5 183.5H561.5V303.7H426.5Z" fill="#fff"/></mask>
<clipPath id="rF"><rect x="427.0" y="184.0" width="134.0" height="119.2"/></clipPath>
<g clip-path="url(#rF)"><g mask="url(#cF)"><rect x="425.5" y="182.5" width="173.0" height="122.2" fill="#ffff00"/><path d="M430.0 303.2C430.3 302.5 431.3 300.6 432.0 299.3C432.6 298.0 433.2 296.6 433.8 295.3C434.3 293.9 434.9 292.5 435.4 291.2C435.9 289.8 436.4 288.4 436.9 287.0C437.4 285.6 437.8 284.2 438.3 282.8C438.7 281.4 439.1 280.0 439.6 278.5C440.0 277.1 440.4 275.7 440.8 274.2C441.2 272.8 441.5 271.3 441.9 269.9C442.3 268.4 442.6 266.9 443.0 265.5C443.4 264.0 443.7 262.5 444.1 261.1C444.4 259.6 444.8 258.1 445.2 256.6C445.5 255.2 445.9 253.7 446.2 252.2C446.6 250.7 447.0 249.3 447.3 247.8C447.7 246.3 448.1 244.8 448.5 243.4C448.9 241.9 449.3 240.4 449.7 238.9C450.2 237.5 450.6 236.0 451.0 234.6C451.5 233.1 452.0 231.6 452.5 230.2C452.9 228.8 453.4 227.3 454.0 225.9C454.5 224.5 455.1 223.1 455.7 221.7C456.2 220.3 456.8 218.9 457.5 217.5C458.1 216.2 458.8 214.8 459.4 213.5C460.1 212.2 460.9 210.9 461.6 209.7C462.4 208.4 463.1 207.2 464.0 206.0C464.8 204.8 465.6 203.7 466.5 202.6C467.4 201.5 468.4 200.4 469.3 199.4C470.3 198.3 471.3 197.3 472.4 196.4C473.4 195.5 474.5 194.6 475.6 193.8C476.8 192.9 478.0 192.2 479.2 191.4C480.4 190.7 481.7 190.0 483.0 189.4C484.3 188.8 485.7 188.3 487.1 187.8C488.5 187.3 490.0 186.8 491.4 186.4C492.9 186.0 494.4 185.7 495.9 185.3C497.4 185.0 499.0 184.7 500.6 184.5C502.1 184.3 503.7 184.1 505.4 183.9C507.0 183.7 508.6 183.6 510.2 183.5C511.9 183.3 513.5 183.3 515.2 183.2C516.8 183.1 518.5 183.1 520.1 183.1C521.8 183.1 523.4 183.1 525.1 183.1C526.7 183.1 528.3 183.2 530.0 183.2C531.6 183.3 533.2 183.3 534.8 183.4C536.4 183.4 538.0 183.5 539.5 183.6C541.1 183.6 542.6 183.7 544.1 183.8C545.6 183.9 547.1 183.9 548.5 184.0C549.9 184.0 551.3 184.1 552.7 184.1C554.1 184.2 555.4 184.2 556.7 184.2C557.9 184.2 559.2 184.2 560.3 184.2C561.5 184.2 563.2 184.1 563.7 184.1L563.7 179.5L590.5 179.5L590.5 307.7L430.0 307.7Z" fill="#00ff00"/><path d="M431.5 303.2C431.9 302.6 433.2 301.0 434.0 299.8C434.9 298.7 435.6 297.5 436.4 296.3C437.2 295.1 437.9 293.9 438.6 292.7C439.3 291.5 440.0 290.3 440.7 289.0C441.4 287.8 442.0 286.5 442.6 285.2C443.3 283.9 443.9 282.6 444.5 281.3C445.1 280.0 445.6 278.7 446.2 277.4C446.8 276.1 447.3 274.7 447.9 273.4C448.4 272.0 449.0 270.7 449.5 269.3C450.0 268.0 450.5 266.6 451.0 265.2C451.5 263.9 452.0 262.5 452.5 261.1C453.0 259.7 453.5 258.3 454.0 257.0C454.5 255.6 455.0 254.2 455.5 252.8C456.0 251.4 456.5 250.0 457.0 248.6C457.5 247.2 458.0 245.9 458.5 244.5C459.0 243.1 459.5 241.7 460.0 240.3C460.5 239.0 461.0 237.6 461.6 236.2C462.1 234.9 462.7 233.5 463.2 232.2C463.8 230.8 464.4 229.5 464.9 228.2C465.5 226.8 466.1 225.5 466.8 224.2C467.4 222.9 468.0 221.6 468.7 220.4C469.4 219.1 470.1 217.9 470.8 216.6C471.5 215.4 472.2 214.2 473.0 213.0C473.8 211.9 474.6 210.7 475.4 209.6C476.2 208.5 477.1 207.4 478.0 206.3C478.9 205.3 479.8 204.3 480.7 203.3C481.7 202.3 482.7 201.4 483.7 200.4C484.8 199.5 485.9 198.7 487.0 197.8C488.1 197.0 489.2 196.2 490.4 195.5C491.6 194.7 492.8 194.0 494.1 193.4C495.3 192.7 496.6 192.1 497.9 191.5C499.2 190.9 500.5 190.4 501.9 189.9C503.2 189.3 504.6 188.9 506.0 188.5C507.4 188.0 508.8 187.6 510.2 187.3C511.6 186.9 513.1 186.6 514.5 186.3C516.0 186.0 517.4 185.8 518.9 185.6C520.4 185.3 521.8 185.1 523.3 185.0C524.8 184.8 526.3 184.7 527.8 184.5C529.3 184.4 530.8 184.3 532.3 184.2C533.8 184.1 535.3 184.1 536.8 184.0C538.2 184.0 539.7 183.9 541.2 183.9C542.7 183.9 544.2 183.9 545.7 183.9C547.1 183.9 548.6 183.9 550.0 183.9C551.5 183.9 552.9 183.9 554.4 184.0C555.8 184.0 557.2 184.0 558.6 184.0C560.0 184.0 561.4 184.1 562.7 184.1C564.1 184.1 566.1 184.1 566.7 184.1L566.7 179.5L590.5 179.5L590.5 307.7L431.5 307.7Z" fill="#ff0000"/></g></g>
<rect x="427.5" y="184.5" width="133.0" height="118.2" fill="none" stroke="#000" stroke-opacity="0.58" stroke-width="0.9"/>
<path d="M427.5 302.7v2.2M427.5 302.7h-2.2M460.8 302.7v1.6M427.5 273.1h-1.6M494.0 302.7v2.2M427.5 243.6h-2.2M527.2 302.7v1.6M427.5 214.1h-1.6M560.5 302.7v2.2M427.5 184.5h-2.2" stroke="#000" stroke-opacity="0.6" stroke-width="1" fill="none"/>
<text class="tk" x="427.6" y="314.3" text-anchor="middle">0.0</text>
<text class="tk" x="423.5" y="305.5" text-anchor="end">0.0</text>
<text class="tk" x="494.0" y="314.3" text-anchor="middle">0.5</text>
<text class="tk" x="423.5" y="246.4" text-anchor="end">0.5</text>
<text class="tk" x="560.5" y="314.3" text-anchor="middle">1.0</text>
<text class="tk" x="423.5" y="187.3" text-anchor="end">1.0</text>
<text class="ax" x="494.0" y="326.0" text-anchor="middle">migration probability <tspan class="i">v</tspan></text>
<text class="ax" transform="translate(401.0 242.1) rotate(-90)" text-anchor="middle">mutation probability <tspan class="i">u</tspan></text>
<text class="pl" x="396.4" y="179.5">F</text>
<text class="tt" x="138.5" y="9.9" text-anchor="middle"><tspan class="i">N</tspan> = 100</text>
<text class="tt" x="309.6" y="11.0" text-anchor="middle"><tspan class="i">N</tspan> = 500</text>
<text class="tt" x="486.3" y="10.3" text-anchor="middle"><tspan class="i">N</tspan> = 1000</text>
<text class="rw" x="1" y="88.9">PD</text>
<text class="rw" x="1" y="250.5">SN</text>
<rect x="582.0" y="71.3" width="82.0" height="19.9" fill="#ff0000" stroke="none" stroke-width="0.8"/>
<rect x="582.0" y="126.5" width="82.0" height="20.4" fill="#00ff00" stroke="none" stroke-width="0.8"/>
<rect x="582.0" y="183.9" width="82.0" height="19.9" fill="#ffff00" stroke="#77770a" stroke-width="0.8"/>
<rect x="582.7" y="240.8" width="82.0" height="19.9" fill="#fff" stroke="#999" stroke-width="0.8"/>
<text class="lg" x="581.6" y="100.9">the optional migration</text>
<text class="lg" x="581.6" y="115.2">ranges <tspan class="i">r</tspan><tspan class="sp" dy="-5.8">*</tspan><tspan class="sb" dy="10" dx="-3">1</tspan><tspan dy="-4.2">=</tspan><tspan class="i">r</tspan><tspan class="sp" dy="-5.8">*</tspan><tspan class="sb" dy="10" dx="-3">2</tspan><tspan dy="-4.2">=1</tspan></text>
<text class="lg" x="581.6" y="155.7">the optional migration</text>
<text class="lg" x="581.6" y="170.6">ranges <tspan class="i">r</tspan><tspan class="sp" dy="-5.8">*</tspan><tspan class="sb" dy="10" dx="-3">1</tspan><tspan dy="-4.2">=</tspan><tspan class="i">r</tspan><tspan class="sp" dy="-5.8">*</tspan><tspan class="sb" dy="10" dx="-3">2</tspan><tspan dy="-4.2"><tspan class="el">∈</tspan>(1 , 4)</tspan></text>
<text class="lg" x="581.6" y="212.9">the optional migration</text>
<text class="lg" x="581.6" y="227.5">ranges <tspan class="i">r</tspan><tspan class="sp" dy="-5.8">*</tspan><tspan class="sb" dy="10" dx="-3">1</tspan><tspan dy="-4.2">=</tspan><tspan class="i">r</tspan><tspan class="sp" dy="-5.8">*</tspan><tspan class="sb" dy="10" dx="-3">2</tspan><tspan dy="-4.2">=4</tspan></text>
<text class="lg" x="582.5" y="270">all migration ranges</text>
<text class="lg" x="582.5" y="284.8">lead to negative <tspan class="i">(c/b)</tspan><tspan class="sp" dy="-5">*</tspan></text>
</svg>
</body></html>
